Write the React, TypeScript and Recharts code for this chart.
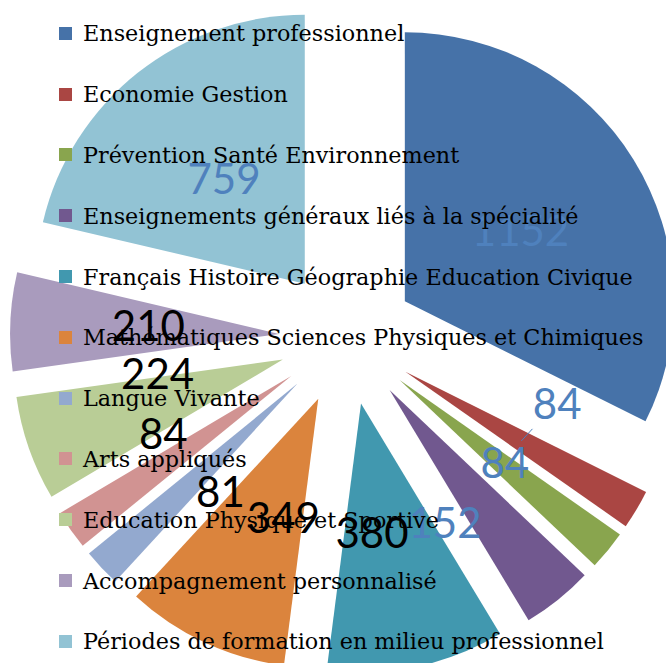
import React from "react";
import { PieChart, Pie, Cell, Sector, Legend } from "recharts";

const subjects = [
  "Enseignement professionnel",
  "Economie Gestion",
  "Prévention Santé Environnement",
  "Enseignements généraux liés à la spécialité",
  "Français Histoire Géographie Education Civique",
  "Mathématiques Sciences Physiques et Chimiques",
  "Langue Vivante",
  "Arts appliqués",
  "Education Physique et Sportive",
  "Accompagnement personnalisé",
  "Périodes de formation en milieu professionnel",
];

const hours = [1152, 84, 84, 152, 380, 349, 81, 84, 224, 210, 759];

const COLORS = [
  "#4672A8",
  "#AA4643",
  "#89A54E",
  "#71588F",
  "#4198AF",
  "#DB843D",
  "#93A9CF",
  "#D19392",
  "#B9CD96",
  "#A99BBD",
  "#92C3D4",
];

// excel mixed label colours
const LABEL_COLORS = [
  "#4F81BD", "#4F81BD", "#4F81BD", "#4F81BD", "#000", "#000",
  "#000", "#000", "#000", "#000", "#4F81BD",
];

// "best fit" nudges: degrees clockwise, and distance from slice tip
const LABEL_SHIFT = [0, -19, -1.5, 16, 7, -8.5, -11, 11, 13, 1.5, 1];
const LABEL_DIST = [136, 155, 133, 143, 129, 123, 132, 140, 126, 131, 133];

const data = subjects.map((name, i) => ({ name, value: hours[i] }));

const RADIAN = Math.PI / 180;
const EXPLODE = 68;

const tip = (cx: number, cy: number, midAngle: number) => ({
  x: cx + EXPLODE * Math.cos(-midAngle * RADIAN),
  y: cy + EXPLODE * Math.sin(-midAngle * RADIAN),
});

const renderSector = (props: any) => {
  const p = tip(props.cx, props.cy, props.midAngle);
  return <Sector {...props} cx={p.x} cy={p.y} />;
};

const renderLabel = (props: any) => {
  const { cx, cy, midAngle, index, value } = props;
  const p = tip(cx, cy, midAngle);
  const a = (midAngle - LABEL_SHIFT[index]) * RADIAN;
  const r = LABEL_DIST[index];
  const x = p.x + r * Math.cos(-a);
  const y = p.y + r * Math.sin(-a);
  let leader = null;
  if (index === 1) {
    const m = midAngle * RADIAN;
    const x0 = p.x + 135 * Math.cos(-m);
    const y0 = p.y + 135 * Math.sin(-m);
    leader = (
      <line x1={x0} y1={y0} x2={x0 + 11} y2={y0 - 12} stroke="#4F81BD" strokeWidth={1} />
    );
  }
  return (
    <g key={`lbl-${index}`}>
      {leader}
      <text
        x={x}
        y={y}
        fill={LABEL_COLORS[index]}
        textAnchor="middle"
        dominantBaseline="central"
        fontFamily="Lato, sans-serif"
        fontSize={42}
      >
        {value}
      </text>
    </g>
  );
};

// legend kept in data order (recharts sorts the payload otherwise)
const renderLegend = () => (
  <div>
    {subjects.map((name, i) => (
      <div
        key={`leg-${i}`}
        style={{
          display: "flex",
          alignItems: "center",
          height: 60.8,
          fontFamily: "'DejaVu Serif', serif",
          fontSize: 22.3,
          color: "#000",
          whiteSpace: "nowrap",
        }}
      >
        <span
          style={{
            display: "inline-block",
            width: 13,
            height: 13,
            background: COLORS[i],
            marginRight: 11,
          }}
        />
        <span>{name}</span>
      </div>
    ))}
  </div>
);

export default function App() {
  return (
    <div style={{ position: "absolute", left: 0, top: 0, width: 666, height: 663, overflow: "hidden", background: "#fff" }}>
      <PieChart width={666} height={663} margin={{ top: 0, right: 0, bottom: 0, left: 0 }}>
        <Pie
          data={data}
          dataKey="value"
          nameKey="name"
          cx={347}
          cy={337}
          outerRadius={269}
          startAngle={90}
          endAngle={-270}
          stroke="none"
          isAnimationActive={false}
          shape={renderSector}
          label={renderLabel}
          labelLine={false}
        >
          {data.map((entry, index) => (
            <Cell key={`cell-${index}`} fill={COLORS[index]} />
          ))}
        </Pie>
        <Legend
          layout="vertical"
          align="center"
          verticalAlign="middle"
          content={renderLegend}
          wrapperStyle={{ left: 59, top: 3, width: 600 }}
        />
      </PieChart>
    </div>
  );
}
